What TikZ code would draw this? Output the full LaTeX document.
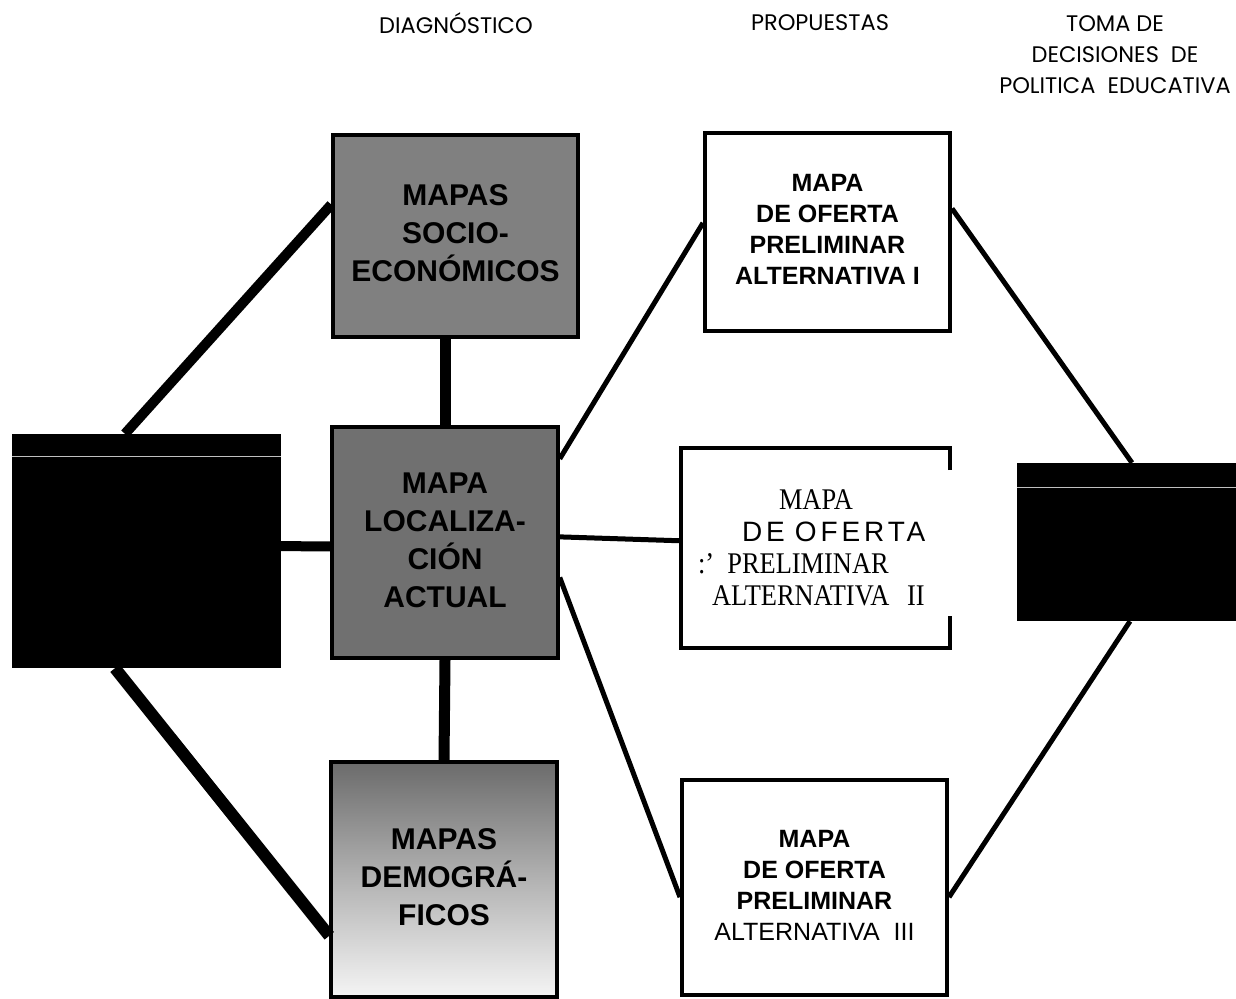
\documentclass[tikz,border=0pt]{standalone}
\usepackage{fontspec}
\setmainfont{Liberation Serif}
\newfontfamily\arialf{Liberation Sans}
\newfontfamily\headf{Poppins}
\newfontfamily\spacedf[LetterSpace=14]{Liberation Sans}
\usetikzlibrary{calc}
\newcommand{\boxstack}[2]{\raisebox{#1}{\begin{tabular}{@{}c@{}}#2\end{tabular}}}
\newcommand{\narrowtxt}[1]{\scalebox{0.88}[1]{#1}}
\begin{document}
\begin{tikzpicture}[x=1pt,y=-1pt,
  heavy/.style={line width=10pt},
  thinlink/.style={line width=5pt},
  graybox/.style={draw, line width=3.5pt, inner sep=0pt, align=center,
    font=\arialf\bfseries\fontsize{30}{38}\selectfont},
  altbox/.style={draw, line width=4pt, fill=white, inner sep=0pt, align=center,
    font=\arialf\bfseries\fontsize{25}{31}\selectfont},
  blackbox/.style={fill=black, inner sep=0pt},
  scanline/.style={white!75!black, line width=1pt},
  head/.style={font=\headf\fontsize{22.5}{31}\selectfont, align=center, inner sep=0pt}]

\useasboundingbox (0,0) rectangle (1236,998);

% headers
\node[head] (h1) at (456,23) {DIAGNÓSTICO};
\node[head] (h2) at (820,23) {PROPUESTAS};
\node[head] (h3) at (1115,55) {TOMA DE\\DECISIONES\ \ DE\\POLITICA\ \ EDUCATIVA};

% black boxes
\node[blackbox, minimum width=269pt, minimum height=234pt] (bl) at (146.5,551) {};
\node[blackbox, minimum width=219pt, minimum height=158pt] (br) at (1126.5,542) {};
\draw[scanline] ($(bl.north west)+(0,23)$) -- ($(bl.north east)+(0,23)$);
\draw[scanline] ($(br.north west)+(0,25)$) -- ($(br.north east)+(0,25)$);

% gray boxes
\node[graybox, fill=black!50, minimum width=245pt, minimum height=202pt] (socio) at (455.5,236)
  {\boxstack{7pt}{MAPAS\\SOCIO-\\ECONÓMICOS}};
\node[graybox, fill=black!56, minimum width=226pt, minimum height=231pt] (loc) at (445,542.5)
  {\boxstack{4pt}{MAPA\\LOCALIZA-\\CIÓN\\ACTUAL}};
\node[graybox, top color=black!58, bottom color=black!4, middle color=black!30,
  minimum width=226pt, minimum height=235pt] (demo) at (444,879.5)
  {\boxstack{25pt}{MAPAS\\DEMOGRÁ-\\FICOS}};

% alternative boxes
\node[altbox, minimum width=245pt, minimum height=198pt] (alt1) at (827.5,232)
  {\boxstack{0pt}{MAPA\\DE OFERTA\\PRELIMINAR\\ALTERNATIVA I}};
\node[altbox, draw=none, minimum width=265pt, minimum height=196pt, text width=235pt,
  align=left, font=\fontsize{30}{32}\selectfont] (alt2) at (815.5,548)
  {\hspace*{81pt}\narrowtxt{MAPA}\\
   \hspace*{44pt}{\spacedf\fontsize{28}{32}\selectfont DE\ OFERTA}\\
   \narrowtxt{:' PRELIMINAR}\\
   \hspace*{14pt}\narrowtxt{ALTERNATIVA\ \ II}};
\draw[line width=4pt] (alt2.north east) ++(0,22) -- (alt2.north east) -- (alt2.north west)
  -- (alt2.south west) -- (alt2.south east) -- ++(0,-32);
\node[altbox, minimum width=265pt, minimum height=215pt] (alt3) at (814.5,887.5)
  {\boxstack{10pt}{MAPA\\DE OFERTA\\PRELIMINAR\\{\mdseries ALTERNATIVA\ \ III}}};

% connectors
\draw[heavy] ($(bl.north west)!0.42!(bl.north east)$) -- ($(socio.north west)!0.347!(socio.south west)$);
\draw[heavy] ($(bl.north east)!0.479!(bl.south east)$) -- ($(loc.north west)!0.517!(loc.south west)$);
\draw[line width=12pt] ($(bl.south west)!0.383!(bl.south east)$) -- ($(demo.north west)!0.736!(demo.south west)$);
\draw[line width=11pt] (socio.south -| loc.north) -- (loc.north);
\draw[line width=11pt] (loc.south) -- (demo.north);

\draw[thinlink] ($(loc.north east)!0.143!(loc.south east)$) -- ($(alt1.north west)!0.455!(alt1.south west)$);
\draw[thinlink] ($(loc.north east)!0.476!(loc.south east)$) -- ($(alt2.north west)!0.464!(alt2.south west)$);
\draw[thinlink] ($(loc.north east)!0.649!(loc.south east)$) -- ($(alt3.north west)!0.544!(alt3.south west)$);
\draw[thinlink] ($(alt1.north east)!0.384!(alt1.south east)$) -- ($(br.north west)!0.525!(br.north east)$);
\draw[thinlink] ($(alt3.north east)!0.544!(alt3.south east)$) -- ($(br.south west)!0.516!(br.south east)$);
\end{tikzpicture}
\end{document}
